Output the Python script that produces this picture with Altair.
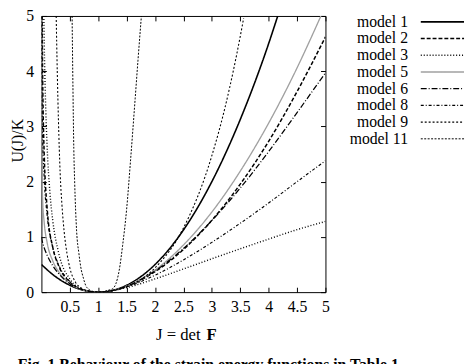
import altair as alt
import pandas as pd

models = ["model 1", "model 2", "model 3", "model 5", "model 6", "model 8", "model 9", "model 11"]

J_m1 = [0, 0.25, 0.5, 0.75, 1, 1.25, 1.5, 2, 2.5, 3, 3.5, 4, 4.16]
U_m1 = [0.5, 0.28, 0.125, 0.031, 0, 0.031, 0.125, 0.5, 1.125, 2.0, 3.125, 4.5, 5.0]

J_m2 = [0.0128, 0.02, 0.03, 0.05, 0.1, 0.2, 0.3, 0.5, 0.75, 1, 1.5, 2, 2.5, 3, 3.5, 4, 4.5, 5]
U_m2 = [5.0, 4.07, 3.31, 2.47, 1.53, 0.81, 0.485, 0.183, 0.036, 0, 0.104, 0.37, 0.772, 1.30, 1.955, 2.73, 3.63, 4.62]

J_m3 = [0.0423, 0.05, 0.07, 0.1, 0.15, 0.2, 0.3, 0.5, 0.75, 1, 1.5, 2, 2.5, 3, 3.5, 4, 4.5, 5]
U_m3 = [5.0, 4.49, 3.54, 2.65, 1.80, 1.295, 0.725, 0.240, 0.041, 0, 0.082, 0.240, 0.420, 0.604, 0.785, 0.961, 1.131, 1.28]

J_m5 = [0.00003, 0.0001, 0.001, 0.005, 0.02, 0.05, 0.1, 0.2, 0.3, 0.5, 0.75, 1, 1.5, 2, 2.5, 3, 3.5, 4, 4.5, 4.92]
U_m5 = [4.96, 4.36, 3.20, 2.40, 1.71, 1.25, 0.90, 0.565, 0.375, 0.159, 0.034, 0, 0.11, 0.40, 0.854, 1.45, 2.19, 3.06, 4.06, 5.0]

J_m6 = [0, 0.01, 0.03, 0.05, 0.1, 0.2, 0.3, 0.5, 0.75, 1, 1.5, 2, 2.5, 3, 3.5, 4, 4.5, 5]
U_m6 = [1.0, 0.944, 0.865, 0.80, 0.67, 0.478, 0.339, 0.153, 0.034, 0, 0.108, 0.386, 0.791, 1.296, 1.885, 2.545, 3.25, 3.97]

J_m8 = [0.0025, 0.005, 0.01, 0.02, 0.05, 0.1, 0.2, 0.3, 0.5, 0.75, 1, 1.5, 2, 2.5, 3, 3.5, 4, 4.5, 5]
U_m8 = [4.99, 4.30, 3.615, 2.93, 2.046, 1.403, 0.809, 0.504, 0.193, 0.038, 0, 0.095, 0.307, 0.584, 0.901, 1.247, 1.614, 2.00, 2.38]

J_m9 = [0.26, 0.28, 0.3, 0.33, 0.36, 0.4, 0.45, 0.5, 0.6, 0.7, 0.8, 0.9, 1, 1.2, 1.5, 2, 2.5, 3, 3.25, 3.5, 3.56]
U_m9 = [5.0, 3.95, 3.1, 2.15, 1.6, 1.1, 0.7, 0.44, 0.18, 0.075, 0.027, 0.006, 0, 0.017, 0.10, 0.44, 1.16, 2.47, 3.42, 4.63, 4.96]

J_m11 = [0.54, 0.555, 0.57, 0.585, 0.62, 0.66, 0.69, 0.74, 0.78, 0.85, 0.92, 1, 1.08, 1.16, 1.25, 1.31, 1.37, 1.43, 1.5, 1.57, 1.65, 1.7, 1.76]
U_m11 = [5.0, 3.7, 2.6, 2.0, 1.1, 0.7, 0.47, 0.25, 0.12, 0.04, 0.01, 0, 0.005, 0.03, 0.06, 0.15, 0.4, 0.85, 1.5, 2.4, 3.5, 4.2, 5.0]

x_ticks = [0.5, 1, 1.5, 2, 2.5, 3, 3.5, 4, 4.5, 5]
y_ticks = [0, 1, 2, 3, 4, 5]

series = {
    "model 1": (J_m1, U_m1), "model 2": (J_m2, U_m2), "model 3": (J_m3, U_m3),
    "model 5": (J_m5, U_m5), "model 6": (J_m6, U_m6), "model 8": (J_m8, U_m8),
    "model 9": (J_m9, U_m9), "model 11": (J_m11, U_m11),
}
rows = []
for m, (js, us) in series.items():
    for j, u in zip(js, us):
        rows.append({"model": m, "J": j, "U": u})
df = pd.DataFrame(rows)

dashes = [[1, 0], [4, 2], [1, 2], [1, 0], [6, 2, 1, 2], [3, 2, 1, 2], [2, 2], [2, 1.5]]
colors = ["black", "black", "black", "#a0a0a0", "black", "black", "black", "black"]
widths = [1.6, 1, 1, 1, 1, 1, 1, 1]

FONT = "Liberation Serif"

dash_enc = alt.StrokeDash("model:N", scale=alt.Scale(domain=models, range=dashes), legend=None)
col_enc = alt.Color("model:N", scale=alt.Scale(domain=models, range=colors), legend=None)
w_enc = alt.StrokeWidth("model:N", scale=alt.Scale(domain=models, range=widths), legend=None)

xs = alt.Scale(domain=[0, 5], nice=False, zero=False)
ys = alt.Scale(domain=[0, 5], nice=False, zero=False)

curves = alt.Chart(df).mark_line(interpolate="monotone", clip=True).encode(
    x=alt.X("J:Q", scale=xs, axis=alt.Axis(orient="bottom", values=x_ticks, format="~g", offset=-5,
                                           tickSize=5, labelPadding=7, domain=False, grid=False,
                                           title=None, labelFlush=False, labelOverlap=False)),
    y=alt.Y("U:Q", scale=ys, axis=alt.Axis(orient="left", values=y_ticks, format="~g", offset=-5,
                                           tickSize=5, labelPadding=8, domain=False, grid=False,
                                           title=None, labelFlush=False, labelOverlap=False)),
    color=col_enc, strokeDash=dash_enc, strokeWidth=w_enc,
    order=alt.Order("J:Q"),
)

mirror = alt.Chart(df).mark_line(opacity=0).encode(
    x=alt.X("J:Q", scale=xs, axis=alt.Axis(orient="top", values=x_ticks, offset=-5, tickSize=5,
                                           labels=False, domain=False, grid=False, title=None)),
    y=alt.Y("U:Q", scale=ys, axis=alt.Axis(orient="right", values=y_ticks, offset=-5, tickSize=5,
                                           labels=False, domain=False, grid=False, title=None)),
    detail="model:N",
)

leg_df = pd.DataFrame({"model": models})
leg_y = alt.Y("model:N", scale=alt.Scale(type="point", domain=models, range=[6, 125], padding=0), axis=None)

leg_lines = alt.Chart(leg_df).mark_rule().encode(
    x=alt.value(386), x2=alt.value(430), y=leg_y,
    color=col_enc, strokeDash=dash_enc, strokeWidth=w_enc,
)
leg_text = alt.Chart(leg_df).mark_text(align="right", baseline="middle", font=FONT, fontSize=16,
                                       color="black").encode(
    x=alt.value(373), y=leg_y, text="model:N",
)

xt1 = alt.Chart(pd.DataFrame({"t": ["J = det"]})).mark_text(
    align="right", baseline="alphabetic", font=FONT, fontSize=17, color="black").encode(
    x=alt.value(162), y=alt.value(330), text="t:N")
xt2 = alt.Chart(pd.DataFrame({"t": ["F"]})).mark_text(
    align="left", baseline="alphabetic", font=FONT, fontSize=17, fontWeight="bold", color="black").encode(
    x=alt.value(168), y=alt.value(330), text="t:N")
yt = alt.Chart(pd.DataFrame({"t": ["U(J)/K"]})).mark_text(
    align="center", baseline="middle", angle=270, font=FONT, fontSize=16, color="black").encode(
    x=alt.value(-24), y=alt.value(127), text="t:N")
cap = alt.Chart(pd.DataFrame({"t": ["Fig. 1  Behaviour of the strain energy functions in Table 1"]})).mark_text(
    align="left", baseline="alphabetic", font=FONT, fontSize=16, fontWeight="bold", color="black").encode(
    x=alt.value(-24), y=alt.value(360), text="t:N")

chart = alt.layer(curves, mirror, leg_lines, leg_text, xt1, xt2, yt, cap).resolve_scale(
    x="independent", y="independent", color="independent", strokeDash="independent",
    strokeWidth="independent"
).properties(
    width=289, height=281,
    padding={"left": 34, "top": 5, "right": 143, "bottom": 70},
    autosize=alt.AutoSizeParams(type="none"),
).configure_view(stroke="black", strokeWidth=1).configure_axis(
    labelFont=FONT, labelFontSize=16, labelColor="black", tickColor="black", tickWidth=1,
)

chart.save("out.html", embed_options={"renderer": "svg", "actions": False})
